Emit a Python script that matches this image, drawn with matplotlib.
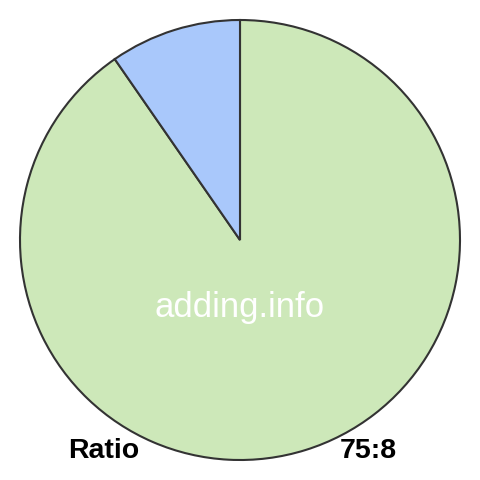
import matplotlib
matplotlib.use("Agg")
import matplotlib.pyplot as plt

labels = ["A", "B"]
values = [75, 8]
colors = ["#cde8b9", "#a9c8fb"]

fig = plt.figure(figsize=(4.8, 4.8), dpi=100)
ax = fig.add_axes([20/480, 20/480, 440/480, 440/480])
ax.pie(values, colors=colors, startangle=90, counterclock=False,
       wedgeprops=dict(edgecolor="#333333", linewidth=1.5), radius=1.0)
ax.set_xlim(-1.0, 1.0)
ax.set_ylim(-1.0, 1.0)
ax.set_aspect("equal")
ax.axis("off")

fig.text(240/480, 1 - 308/480, "adding.info", color="white", fontsize=25,
         family="Liberation Sans", ha="center", va="center")
fig.text(68/480, 1 - 451/480, "Ratio", color="black", fontsize=20.5, fontweight="bold",
         family="Liberation Sans", ha="left", va="center")
fig.text(397/480, 1 - 451/480, "75:8", color="black", fontsize=20.5, fontweight="bold",
         family="Liberation Sans", ha="right", va="center")

fig.savefig("out.png", dpi=100, facecolor="white")
